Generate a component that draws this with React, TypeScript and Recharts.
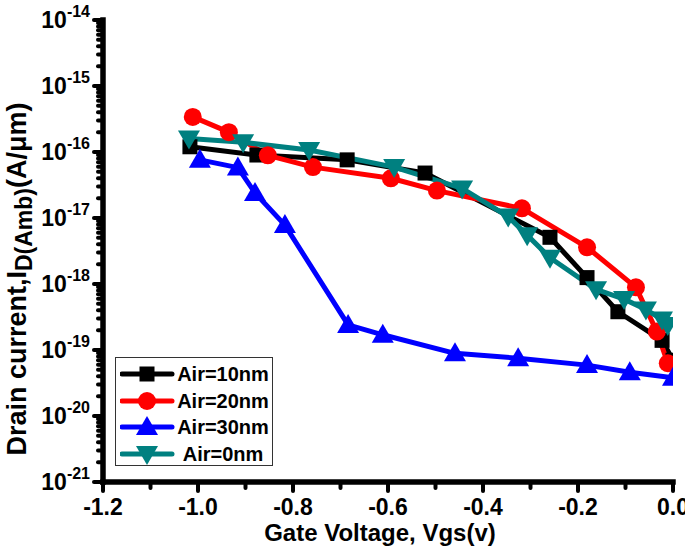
import React from "react";
import { LineChart, Line, XAxis, YAxis, Legend } from "recharts";

// x axis (Vgs) ticks, majors every 0.2
const xTicks = [-1.2, -1.1, -1.0, -0.9, -0.8, -0.7, -0.6, -0.5, -0.4, -0.3, -0.2, -0.1, 0.0];
const xMajor = [-1.2, -1.0, -0.8, -0.6, -0.4, -0.2, 0.0];

// log y axis: decades + minor steps
const decades = [-21, -20, -19, -18, -17, -16, -15, -14];
const minorSteps = [2, 3, 4, 5, 6, 7, 8, 9];
const rightTicks = [0, 1, 2, 3, 4, 5, 6, 7, 8, 9, 10];

// Air=10nm
const air10X = [-1.017, -0.876, -0.686, -0.522, -0.259, -0.181, -0.116, -0.023, 0.0];
const air10Y = [1.2e-16, 9.0e-17, 7.6e-17, 4.8e-17, 5.1e-18, 1.25e-18, 3.8e-19, 1.4e-19, 7e-20];

// Air=20nm
const air20X = [-1.011, -0.935, -0.853, -0.758, -0.594, -0.497, -0.318, -0.181, -0.078, -0.034, -0.011];
const air20Y = [3.4e-16, 2.0e-16, 8.9e-17, 5.9e-17, 4.0e-17, 2.6e-17, 1.4e-17, 3.6e-18, 8.9e-19, 1.9e-19, 6.3e-20];

// Air=30nm
const air30X = [-0.996, -0.916, -0.88, -0.817, -0.684, -0.611, -0.459, -0.326, -0.181, -0.091, 0.0];
const air30Y = [7.6e-17, 5.8e-17, 2.4e-17, 7.8e-18, 2.4e-19, 1.7e-19, 8.9e-20, 7.5e-20, 5.9e-20, 4.6e-20, 3.8e-20];

// Air=0nm
const air0X = [-1.019, -0.905, -0.766, -0.587, -0.444, -0.347, -0.307, -0.259, -0.162, -0.103, -0.057, -0.023, -0.011];
const air0Y = [1.6e-16, 1.4e-16, 1.07e-16, 5.9e-17, 2.8e-17, 1.05e-17, 5.5e-18, 2.5e-18, 8.3e-19, 5.9e-19, 4.1e-19, 2.9e-19, 2.4e-19];

const FONT = '"Liberation Sans", Arial, sans-serif';

const zip = (xs: number[], ys: number[]) => xs.map((x, i) => ({ x, y: ys[i] }));

const yTicks: number[] = [];
decades.forEach((d) => {
  yTicks.push(Math.pow(10, d));
  if (d < -14) minorSteps.forEach((k) => yTicks.push(k * Math.pow(10, d)));
});

type Shape = "square" | "circle" | "up" | "down";

const Marker = ({ cx, cy, shape, color }: { cx: number; cy: number; shape: Shape; color: string }) => {
  if (shape === "square") return <rect x={cx - 7.5} y={cy - 7.5} width={15} height={15} fill={color} />;
  if (shape === "circle") return <circle cx={cx} cy={cy} r={9} fill={color} />;
  if (shape === "up")
    return <polygon points={`${cx},${cy - 11} ${cx - 11},${cy + 8} ${cx + 11},${cy + 8}`} fill={color} />;
  return <polygon points={`${cx - 11},${cy - 8} ${cx + 11},${cy - 8} ${cx},${cy + 11}`} fill={color} />;
};

const series = [
  { name: "Air=10nm", color: "#000000", shape: "square" as Shape, data: zip(air10X, air10Y) },
  { name: "Air=20nm", color: "#ff0000", shape: "circle" as Shape, data: zip(air20X, air20Y) },
  { name: "Air=30nm", color: "#0000ff", shape: "up" as Shape, data: zip(air30X, air30Y) },
  { name: "Air=0nm", color: "#008080", shape: "down" as Shape, data: zip(air0X, air0Y) },
];

const XTick = ({ x, y, payload }: any) => {
  const v = payload.value;
  const major = xMajor.some((m) => Math.abs(m - v) < 1e-6);
  return (
    <g>
      <line x1={x} x2={x} y1={y} y2={y + (major ? 9 : 6)} stroke="#000" strokeWidth={4} strokeLinecap="round" />
      {major && (
        <text x={x} y={y + 33} textAnchor="middle" fontSize={23} fontWeight="bold" fontFamily={FONT} fill="#000">
          {v.toFixed(1)}
        </text>
      )}
    </g>
  );
};

const YTick = ({ x, y, payload }: any) => {
  const v = payload.value;
  const e = Math.round(Math.log10(v));
  const major = Math.abs(v / Math.pow(10, e) - 1) < 1e-6;
  return (
    <g>
      <line x1={x} x2={x - (major ? 9 : 5)} y1={y} y2={y} stroke="#000" strokeWidth={4} strokeLinecap="round" />
      {major && (
        <text x={x - 13} y={y + 8} textAnchor="end" fontWeight="bold" fontFamily={FONT} fill="#000">
          <tspan fontSize={23}>10</tspan>
          <tspan fontSize={16} dy={-11}>{e}</tspan>
        </text>
      )}
    </g>
  );
};

const RightTick = ({ x, y }: any) => (
  <line x1={x} x2={x - 7} y1={y} y2={y} stroke="#000" strokeWidth={4} strokeLinecap="round" />
);

const XTitle = ({ viewBox }: any) => {
  const cx = viewBox.x + viewBox.width / 2 - 8;
  return (
    <text x={cx} y={viewBox.y + 59} textAnchor="middle" fontSize={24} fontWeight="bold" fontFamily={FONT} fill="#000">
      Gate Voltage, Vgs(v)
    </text>
  );
};

const YTitle = ({ viewBox }: any) => {
  const cx = viewBox.x + 26;
  const cy = viewBox.y + viewBox.height / 2 + 28;
  return (
    <text
      transform={`rotate(-90 ${cx} ${cy})`}
      x={cx}
      y={cy}
      textAnchor="middle"
      fontSize={27}
      fontWeight="bold"
      fontFamily={FONT}
      fill="#000"
    >
      <tspan>Drain current,I</tspan>
      <tspan fontSize={23} dy={6}>D(Amb)</tspan>
      <tspan dy={-6}>(A/μm)</tspan>
    </text>
  );
};

const LegendBox = () => (
  <div
    style={{
      position: "relative",
      width: 158,
      height: 109,
      boxSizing: "border-box",
      border: "1.5px solid #333",
      background: "#fff",
      fontFamily: FONT,
    }}
  >
    {series.map((s, i) => (
      <div key={s.name} style={{ position: "absolute", left: 0, top: 3 + i * 26.5, height: 26, width: 158 }}>
        <svg width={56} height={26} style={{ position: "absolute", left: 4, top: 0 }}>
          <line x1={2} x2={52} y1={13} y2={13} stroke={s.color} strokeWidth={5} strokeLinecap="round" />
          <Marker cx={27} cy={13} shape={s.shape} color={s.color} />
        </svg>
        <div
          style={{
            position: "absolute",
            left: 60,
            top: 0,
            width: 94,
            lineHeight: "26px",
            fontSize: 20,
            fontWeight: "bold",
            textAlign: "center",
            color: "#000",
          }}
        >
          {s.name}
        </div>
      </div>
    ))}
  </div>
);

export default function App() {
  return (
    <div style={{ position: "absolute", left: 0, top: 0, width: 685, height: 552, overflow: "hidden" }}>
      <LineChart width={685} height={552} margin={{ top: 20, right: 12, bottom: 0, left: 0 }}>
        <XAxis
          dataKey="x"
          type="number"
          domain={[-1.2, 0]}
          ticks={xTicks}
          interval={0}
          allowDataOverflow
          height={70}
          tickSize={0}
          tickMargin={0}
          tick={<XTick />}
          axisLine={{ stroke: "#000", strokeWidth: 5.5, strokeLinecap: "square" }}
          label={{ content: (p: any) => <XTitle {...p} /> }}
        />
        <XAxis
          xAxisId="top"
          orientation="top"
          type="number"
          domain={[-1.2, 0]}
          height={0}
          tick={false}
          tickLine={false}
          axisLine={{ stroke: "#000", strokeWidth: 5.5, strokeLinecap: "square" }}
        />
        <YAxis
          type="number"
          scale="log"
          domain={[1e-21, 1e-14]}
          ticks={yTicks}
          interval={0}
          allowDataOverflow
          width={103}
          tickSize={0}
          tickMargin={0}
          tick={<YTick />}
          axisLine={{ stroke: "#000", strokeWidth: 5.5, strokeLinecap: "square" }}
          label={{ content: (p: any) => <YTitle {...p} /> }}
        />
        <YAxis
          yAxisId="right"
          orientation="right"
          type="number"
          domain={[0, 10]}
          ticks={rightTicks}
          interval={0}
          width={0}
          tickSize={0}
          tickMargin={0}
          tick={<RightTick />}
          axisLine={{ stroke: "#000", strokeWidth: 5.5, strokeLinecap: "square" }}
        />
        <Legend
          layout="vertical"
          align="center"
          verticalAlign="middle"
          wrapperStyle={{ left: 115, top: 357, width: 158 }}
          content={() => <LegendBox />}
        />
        {series.map((s) => (
          <Line
            key={s.name}
            name={s.name}
            data={s.data}
            dataKey="y"
            stroke={s.color}
            strokeWidth={5}
            strokeLinejoin="round"
            isAnimationActive={false}
            dot={(p: any) => <Marker key={`${s.name}-${p.index}`} cx={p.cx} cy={p.cy} shape={s.shape} color={s.color} />}
            activeDot={false}
          />
        ))}
      </LineChart>
    </div>
  );
}
